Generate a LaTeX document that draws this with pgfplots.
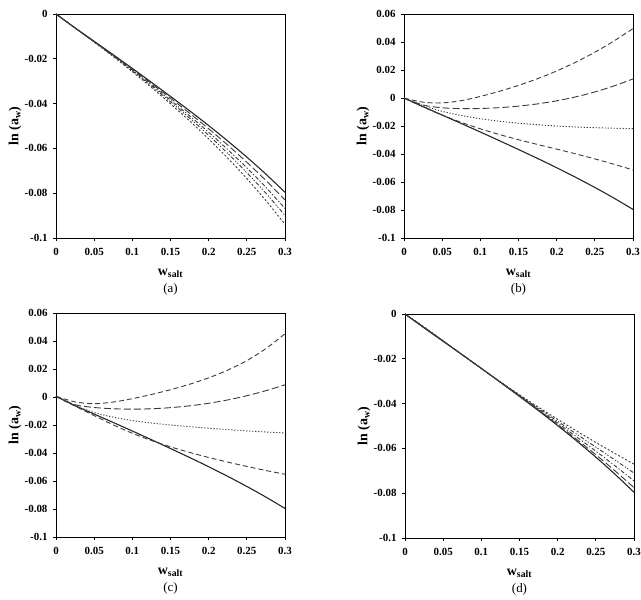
\documentclass[border=0pt]{standalone}
\usepackage{pgfplots}
\pgfplotsset{compat=1.18}
\usepackage{fontspec}
\setmainfont{Liberation Serif}
\definecolor{ln}{HTML}{3A3A3A}
\pgfplotsset{
  panel/.style={
    scale only axis, width=229bp, height=224bp,
    anchor=south west,
    xmin=0, xmax=0.3, ymax=0,
    xtick={0,0.05,0.1,0.15,0.2,0.25,0.3},
    xticklabels={0,0.05,0.1,0.15,0.2,0.25,0.3},
    /pgf/number format/assume math mode=true,
    /pgf/number format/fixed,
    scaled y ticks=false,
    tick label style={font=\bfseries\fontsize{11}{13}\selectfont},
    xtick pos=left, ytick pos=left, tick align=outside,
    major tick length=3bp, tick style={black, line width=0.8pt},
    axis line style={black, line width=0.9pt},
    xticklabel style={yshift=-4bp},
    yticklabel style={xshift=-2bp},
    xlabel={\textbf{w}\textsubscript{\textbf{salt}}},
    xlabel style={at={(axis description cs:0.5,0)}, anchor=center, yshift=-35bp, font=\fontsize{14}{16}\selectfont},
    ylabel={\textbf{ln (a}\textsubscript{\textbf{w}}\textbf{)}},
    ylabel style={at={(axis description cs:0,0.5)}, anchor=center, rotate=0, yshift=41bp, font=\fontsize{14}{16}\selectfont},
    title style={at={(axis description cs:0.5,0)}, anchor=center, yshift=-57bp, font=\fontsize{13}{15}\selectfont},
    every axis plot/.append style={no marks, smooth, color=ln, line width=0.9pt},
  },
  sol/.style={solid, line width=1.1pt, color=black!85},
  lda/.style={dash pattern=on 7bp off 3bp},
  mda/.style={dash pattern=on 5bp off 3bp},
  dot/.style={dash pattern=on 1.2bp off 1.8bp},
  dd1/.style={dash pattern=on 4bp off 2bp on 1.2bp off 2bp},
  dd2/.style={dash pattern=on 4bp off 2bp on 1.2bp off 1.5bp on 1.2bp off 2bp},
  dd3/.style={dash pattern=on 2bp off 2bp},
}
\begin{document}
\begin{tikzpicture}
\useasboundingbox (0bp,0bp) rectangle (641bp,600bp);
% (a)
\begin{axis}[panel, at={(56bp,362bp)}, ymin=-0.1,
  ytick={-0.1,-0.08,-0.06,-0.04,-0.02,0}, yticklabels={-0.1,-0.08,-0.06,-0.04,-0.02,0},
  title={(a)}]
\addplot[sol] coordinates {(0,0)(0.025,-0.0062)(0.05,-0.0122)(0.075,-0.0182)(0.1,-0.0243)(0.125,-0.0305)(0.15,-0.0368)(0.175,-0.0432)(0.2,-0.0498)(0.225,-0.0567)(0.25,-0.0639)(0.275,-0.0715)(0.3,-0.0796)};
\addplot[lda] coordinates {(0,0)(0.025,-0.00622)(0.05,-0.01229)(0.075,-0.0184)(0.1,-0.02465)(0.125,-0.03105)(0.15,-0.03759)(0.175,-0.04428)(0.2,-0.05123)(0.225,-0.05853)(0.25,-0.06619)(0.275,-0.07432)(0.3,-0.0830)};
\addplot[dd1] coordinates {(0,0)(0.025,-0.00625)(0.05,-0.01238)(0.075,-0.01861)(0.1,-0.02503)(0.125,-0.03164)(0.15,-0.03846)(0.175,-0.04547)(0.2,-0.05279)(0.225,-0.06053)(0.25,-0.06869)(0.275,-0.0774)(0.3,-0.0868)};
\addplot[dd2] coordinates {(0,0)(0.025,-0.00627)(0.05,-0.01246)(0.075,-0.01879)(0.1,-0.02535)(0.125,-0.03215)(0.15,-0.03919)(0.175,-0.04648)(0.2,-0.05412)(0.225,-0.06223)(0.25,-0.07082)(0.275,-0.08002)(0.3,-0.08995)};
\addplot[dd3] coordinates {(0,0)(0.025,-0.00629)(0.05,-0.01257)(0.075,-0.01902)(0.1,-0.02576)(0.125,-0.03279)(0.15,-0.04011)(0.175,-0.04774)(0.2,-0.05578)(0.225,-0.06435)(0.25,-0.07349)(0.275,-0.0833)(0.3,-0.0939)};
\end{axis}
% (b)
\begin{axis}[panel, at={(404bp,362bp)}, ymin=-0.1, ymax=0.06,
  ytick={-0.1,-0.08,-0.06,-0.04,-0.02,0,0.02,0.04,0.06}, yticklabels={-0.1,-0.08,-0.06,-0.04,-0.02,0,0.02,0.04,0.06},
  title={(b)}]
\addplot[sol] coordinates {(0,0)(0.025,-0.0062)(0.05,-0.0122)(0.075,-0.0182)(0.1,-0.0243)(0.125,-0.0305)(0.15,-0.0368)(0.175,-0.0432)(0.2,-0.0498)(0.225,-0.0567)(0.25,-0.0639)(0.275,-0.0715)(0.3,-0.0796)};
\addplot[mda] coordinates {(0,0)(0.025,-0.0064)(0.05,-0.0122)(0.075,-0.0174)(0.1,-0.0220)(0.125,-0.0261)(0.15,-0.0298)(0.175,-0.0332)(0.2,-0.0365)(0.225,-0.0399)(0.25,-0.0435)(0.275,-0.0473)(0.3,-0.0514)};
\addplot[dot] coordinates {(0,0)(0.025,-0.0055)(0.05,-0.0095)(0.075,-0.0125)(0.1,-0.0148)(0.125,-0.0166)(0.15,-0.0180)(0.175,-0.0191)(0.2,-0.0200)(0.225,-0.0207)(0.25,-0.0212)(0.275,-0.0216)(0.3,-0.0219)};
\addplot[lda] coordinates {(0,0)(0.025,-0.0050)(0.05,-0.0070)(0.075,-0.0076)(0.1,-0.0075)(0.125,-0.0069)(0.15,-0.0058)(0.175,-0.0042)(0.2,-0.0020)(0.225,0.0008)(0.25,0.0043)(0.275,0.0086)(0.3,0.0136)};
\addplot[mda] coordinates {(0,0)(0.025,-0.0030)(0.05,-0.0035)(0.075,-0.0019)(0.1,0.0011)(0.125,0.0048)(0.15,0.0090)(0.175,0.0138)(0.2,0.0193)(0.225,0.0256)(0.25,0.0327)(0.275,0.0407)(0.3,0.0496)};
\end{axis}
% (c)
\begin{axis}[panel, at={(56bp,63bp)}, ymin=-0.1, ymax=0.06,
  ytick={-0.1,-0.08,-0.06,-0.04,-0.02,0,0.02,0.04,0.06}, yticklabels={-0.1,-0.08,-0.06,-0.04,-0.02,0,0.02,0.04,0.06},
  title={(c)}]
\addplot[sol] coordinates {(0,0.0005)(0.025,-0.0062)(0.05,-0.0122)(0.075,-0.0182)(0.1,-0.0243)(0.125,-0.0305)(0.15,-0.0368)(0.175,-0.0432)(0.2,-0.0498)(0.225,-0.0567)(0.25,-0.0639)(0.275,-0.0715)(0.3,-0.0796)};
\addplot[mda] coordinates {(0,0.0005)(0.025,-0.0065)(0.05,-0.0133)(0.075,-0.0199)(0.1,-0.0259)(0.125,-0.0311)(0.15,-0.0356)(0.175,-0.0396)(0.2,-0.0432)(0.225,-0.0465)(0.25,-0.0496)(0.275,-0.0525)(0.3,-0.0552)};
\addplot[dot] coordinates {(0,0.0005)(0.025,-0.0063)(0.05,-0.0111)(0.075,-0.0144)(0.1,-0.0168)(0.125,-0.0186)(0.15,-0.0200)(0.175,-0.0212)(0.2,-0.0223)(0.225,-0.0233)(0.25,-0.0242)(0.275,-0.0250)(0.3,-0.0257)};
\addplot[lda] coordinates {(0,0.0005)(0.025,-0.0055)(0.05,-0.0075)(0.075,-0.0084)(0.1,-0.0087)(0.125,-0.0084)(0.15,-0.0076)(0.175,-0.0063)(0.2,-0.0045)(0.225,-0.0021)(0.25,0.0009)(0.275,0.0045)(0.3,0.0087)};
\addplot[mda] coordinates {(0,0.0005)(0.025,-0.0035)(0.05,-0.0048)(0.075,-0.0036)(0.1,-0.0012)(0.125,0.0018)(0.15,0.0052)(0.175,0.0091)(0.2,0.0137)(0.225,0.0192)(0.25,0.0260)(0.275,0.0346)(0.3,0.0451)};
\end{axis}
% (d)
\begin{axis}[panel, at={(405bp,62bp)}, ymin=-0.1,
  ytick={-0.1,-0.08,-0.06,-0.04,-0.02,0}, yticklabels={-0.1,-0.08,-0.06,-0.04,-0.02,0},
  title={(d)}]
\addplot[sol] coordinates {(0,0)(0.025,-0.0062)(0.05,-0.0122)(0.075,-0.0182)(0.1,-0.0243)(0.125,-0.0305)(0.15,-0.0368)(0.175,-0.0432)(0.2,-0.0498)(0.225,-0.0567)(0.25,-0.0639)(0.275,-0.0715)(0.3,-0.0796)};
\addplot[lda] coordinates {(0,0)(0.025,-0.0061)(0.05,-0.0121)(0.075,-0.0182)(0.1,-0.0243)(0.125,-0.03046)(0.15,-0.03668)(0.175,-0.04294)(0.2,-0.04934)(0.225,-0.05597)(0.25,-0.06282)(0.275,-0.06998)(0.3,-0.07753)};
\addplot[dd1] coordinates {(0,0)(0.025,-0.0060)(0.05,-0.0121)(0.075,-0.0182)(0.1,-0.0243)(0.125,-0.03041)(0.15,-0.03651)(0.175,-0.04256)(0.2,-0.04867)(0.225,-0.05491)(0.25,-0.06124)(0.275,-0.06775)(0.3,-0.07451)};
\addplot[dd2] coordinates {(0,0)(0.025,-0.0059)(0.05,-0.0120)(0.075,-0.0182)(0.1,-0.0243)(0.125,-0.03035)(0.15,-0.0363)(0.175,-0.04213)(0.2,-0.0479)(0.225,-0.05367)(0.25,-0.05942)(0.275,-0.06518)(0.3,-0.071)};
\addplot[dd3] coordinates {(0,0)(0.025,-0.0058)(0.05,-0.0120)(0.075,-0.0182)(0.1,-0.0243)(0.125,-0.03029)(0.15,-0.03607)(0.175,-0.04163)(0.2,-0.04702)(0.225,-0.05227)(0.25,-0.05734)(0.275,-0.06225)(0.3,-0.06702)};
\end{axis}
\end{tikzpicture}
\end{document}
